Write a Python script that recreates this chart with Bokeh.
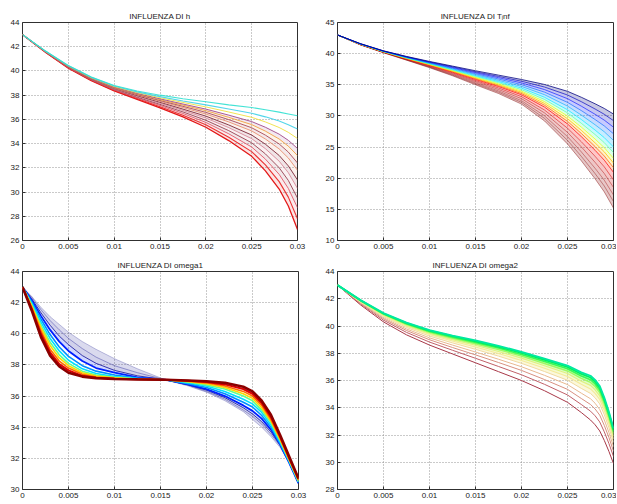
from bokeh.plotting import figure
from bokeh.layouts import column, row
from bokeh.models import Range1d, FixedTicker
from bokeh.embed import file_html
from bokeh.resources import INLINE

# ---------------- data ----------------
XTICKS = [0, 0.005, 0.01, 0.015, 0.02, 0.025, 0.03]
XTICK_LABELS = ["0", "0.005", "0.01", "0.015", "0.02", "0.025", "0.03"]

TITLE_H = "INFLUENZA DI h"
TITLE_T = "INFLUENZA DI T\u1d62nf"
TITLE_W1 = "INFLUENZA DI omega1"
TITLE_W2 = "INFLUENZA DI omega2"

YTICKS_H = [26, 28, 30, 32, 34, 36, 38, 40, 42, 44]
YTICKS_T = [10, 15, 20, 25, 30, 35, 40, 45]
YTICKS_W1 = [30, 32, 34, 36, 38, 40, 42, 44]
YTICKS_W2 = [28, 30, 32, 34, 36, 38, 40, 42, 44]

# Panel 1: influenza di h
X_H = [0, .0025, .005, .0075, .01, .0125, .015, .0175, .02, .0225, .025, .0265, .028, .029, .03]
Y_H = [
    [43, 41.65, 40.45, 39.5, 38.8, 38.35, 38.0, 37.7, 37.45, 37.2, 36.98, 36.8, 36.6, 36.45, 36.3],
    [43, 41.64, 40.42, 39.47, 38.75, 38.27, 37.88, 37.52, 37.2, 36.86, 36.51, 36.21, 35.86, 35.56, 35.2],
    [43, 41.63, 40.41, 39.44, 38.71, 38.21, 37.79, 37.4, 37.03, 36.61, 36.17, 35.79, 35.33, 34.93, 34.42],
    [43, 41.62, 40.39, 39.41, 38.67, 38.15, 37.7, 37.27, 36.85, 36.35, 35.82, 35.35, 34.78, 34.27, 33.6],
    [43, 41.61, 40.37, 39.4, 38.64, 38.11, 37.63, 37.18, 36.72, 36.17, 35.57, 35.03, 34.38, 33.79, 33.01],
    [43, 41.6, 40.36, 39.38, 38.61, 38.06, 37.56, 37.08, 36.58, 35.98, 35.31, 34.7, 33.97, 33.3, 32.4],
    [43, 41.6, 40.35, 39.36, 38.58, 38.02, 37.5, 36.98, 36.44, 35.79, 35.05, 34.38, 33.56, 32.81, 31.8],
    [43, 41.59, 40.33, 39.33, 38.55, 37.96, 37.41, 36.85, 36.27, 35.54, 34.71, 33.95, 33.02, 32.16, 31.0],
    [43, 41.58, 40.31, 39.31, 38.51, 37.9, 37.33, 36.74, 36.11, 35.32, 34.41, 33.58, 32.55, 31.6, 30.3],
    [43, 41.57, 40.29, 39.28, 38.48, 37.84, 37.24, 36.62, 35.93, 35.07, 34.07, 33.15, 32.01, 30.96, 29.5],
    [43, 41.56, 40.27, 39.26, 38.44, 37.78, 37.15, 36.49, 35.75, 34.81, 33.72, 32.72, 31.46, 30.3, 28.7],
    [43, 41.55, 40.25, 39.23, 38.39, 37.72, 37.05, 36.34, 35.55, 34.53, 33.34, 32.24, 30.86, 29.58, 27.8],
    [43, 41.54, 40.23, 39.2, 38.35, 37.65, 36.95, 36.2, 35.35, 34.25, 32.95, 31.75, 30.25, 28.85, 26.9],
]
C_H = ["#30e0d0", "#40d0e8", "#f0e040", "#a04888", "#f0a040", "#a84858", "#e89070",
       "#802838", "#d88898", "#984050", "#e05868", "#e82020", "#e00000"]
W_H = [1.1, 1.1, 1, 1, 1, 1, 1, 1, 1, 1, 1, 1.1, 1.3]

# Panel 2: influenza di T_inf
X_T = [0, .0025, .005, .0075, .01, .0125, .015, .0175, .02, .0225, .025, .0265, .028, .029, .03]
Y_T = [
    [43, 41.6, 40.45, 39.55, 38.75, 38.0, 37.25, 36.55, 35.85, 35.05, 33.95, 33.0, 31.95, 31.2, 30.3],
    [43, 41.59, 40.43, 39.51, 38.68, 37.89, 37.09, 36.34, 35.57, 34.64, 33.36, 32.29, 31.11, 30.26, 29.24],
    [43, 41.57, 40.41, 39.47, 38.61, 37.78, 36.94, 36.14, 35.3, 34.23, 32.77, 31.57, 30.26, 29.32, 28.19],
    [43, 41.56, 40.39, 39.42, 38.54, 37.67, 36.78, 35.93, 35.02, 33.82, 32.18, 30.86, 29.42, 28.39, 27.13],
    [43, 41.54, 40.37, 39.38, 38.47, 37.57, 36.62, 35.72, 34.74, 33.41, 31.58, 30.14, 28.58, 27.45, 26.07],
    [43, 41.53, 40.35, 39.34, 38.4, 37.46, 36.46, 35.52, 34.47, 33.0, 30.99, 29.43, 27.73, 26.51, 25.01],
    [43, 41.52, 40.33, 39.3, 38.34, 37.36, 36.33, 35.34, 34.23, 32.65, 30.49, 28.82, 27.01, 25.71, 24.11],
    [43, 41.51, 40.31, 39.27, 38.28, 37.27, 36.19, 35.16, 33.99, 32.3, 29.98, 28.21, 26.29, 24.9, 23.2],
    [43, 41.5, 40.29, 39.24, 38.23, 37.19, 36.08, 35.02, 33.8, 32.01, 29.56, 27.7, 25.68, 24.23, 22.45],
    [43, 41.49, 40.28, 39.21, 38.18, 37.12, 35.97, 34.87, 33.6, 31.72, 29.13, 27.19, 25.08, 23.56, 21.69],
    [43, 41.48, 40.26, 39.18, 38.13, 37.04, 35.85, 34.72, 33.4, 31.42, 28.71, 26.68, 24.48, 22.89, 20.94],
    [43, 41.46, 40.24, 39.13, 38.05, 36.92, 35.68, 34.49, 33.09, 30.95, 28.03, 25.86, 23.51, 21.82, 19.73],
    [43, 41.44, 40.22, 39.08, 37.97, 36.79, 35.5, 34.25, 32.77, 30.49, 27.36, 25.04, 22.55, 20.75, 18.52],
    [43, 41.43, 40.19, 39.03, 37.89, 36.67, 35.32, 34.01, 32.45, 30.02, 26.68, 24.23, 21.59, 19.68, 17.31],
    [43, 41.41, 40.17, 38.99, 37.82, 36.56, 35.16, 33.81, 32.18, 29.61, 26.09, 23.51, 20.74, 18.74, 16.26],
    [43, 41.4, 40.15, 38.95, 37.75, 36.45, 35.0, 33.6, 31.9, 29.2, 25.5, 22.8, 19.9, 17.8, 15.2],
]
C_T = ["#00007f", "#0000c0", "#0010ff", "#0060ff", "#00a8ff", "#00e8ff", "#60ffa0", "#e0ff20",
       "#ffc000", "#ff6000", "#ff0000", "#d00000", "#b00000", "#980000", "#880000", "#800000"]
A_T = [0.85, 0.75, 0.7, 0.7, 0.7, 0.75, 0.8, 0.85, 0.85, 0.8, 0.8, 0.6, 0.5, 0.45, 0.45, 0.5]

# Panel 3: influenza di omega1
X_W1 = [0, .001, .002, .003, .004, .005, .0065, .008, .01, .0125, .0155,
        .018, .02, .022, .024, .025, .026, .027, .028, .029, .03]
Y_W1 = [
    [43, 41.5, 39.8, 38.6, 37.9, 37.5, 37.25, 37.15, 37.1, 37.07, 37.05, 37.0, 36.95, 36.85, 36.6, 36.3, 35.7, 34.8, 33.5, 32.1, 30.7],
    [43, 41.6, 40.0, 38.8, 38.05, 37.65, 37.3, 37.18, 37.12, 37.08, 37.05, 36.98, 36.9, 36.75, 36.45, 36.15, 35.55, 34.65, 33.4, 32.0, 30.7],
    [43, 41.7, 40.2, 39.0, 38.25, 37.8, 37.4, 37.22, 37.14, 37.08, 37.05, 36.95, 36.85, 36.65, 36.3, 36.0, 35.4, 34.5, 33.3, 31.95, 30.6],
    [43, 41.8, 40.4, 39.25, 38.45, 37.95, 37.5, 37.28, 37.17, 37.09, 37.05, 36.93, 36.8, 36.55, 36.15, 35.85, 35.25, 34.4, 33.2, 31.9, 30.6],
    [43, 41.85, 40.55, 39.45, 38.65, 38.1, 37.6, 37.35, 37.2, 37.1, 37.05, 36.9, 36.72, 36.45, 36.0, 35.7, 35.1, 34.3, 33.15, 31.85, 30.5],
    [43, 41.95, 40.75, 39.7, 38.9, 38.3, 37.75, 37.45, 37.25, 37.12, 37.05, 36.85, 36.65, 36.3, 35.8, 35.5, 34.95, 34.15, 33.05, 31.8, 30.5],
    [43, 42.05, 40.95, 39.95, 39.15, 38.55, 37.95, 37.6, 37.35, 37.15, 37.05, 36.8, 36.55, 36.15, 35.6, 35.3, 34.75, 34.0, 32.95, 31.75, 30.45],
    [43, 42.15, 41.15, 40.25, 39.5, 38.9, 38.25, 37.8, 37.5, 37.2, 37.05, 36.75, 36.45, 36.0, 35.4, 35.05, 34.55, 33.85, 32.9, 31.7, 30.4],
    [43, 42.25, 41.35, 40.55, 39.85, 39.3, 38.6, 38.1, 37.65, 37.3, 37.05, 36.72, 36.38, 35.9, 35.25, 34.85, 34.35, 33.7, 32.85, 31.7, 30.4],
    [43, 42.35, 41.55, 40.85, 40.25, 39.7, 39.05, 38.5, 37.95, 37.5, 37.05, 36.7, 36.3, 35.8, 35.1, 34.7, 34.2, 33.55, 32.8, 31.7, 30.4],
    [43, 42.4, 41.7, 41.1, 40.6, 40.1, 39.5, 39.0, 38.4, 37.75, 37.05, 36.65, 36.25, 35.7, 35.0, 34.5, 34.0, 33.4, 32.7, 31.7, 30.4],
]
C_W1 = ["#8b0000", "#e00000", "#ff7000", "#ffd800", "#60ff90", "#00e0ff",
        "#0090ff", "#0020ff", "#000090", "#3030a0", "#5050a8"]
W_W1 = [2.6, 2.0, 1.6, 1.6, 1.6, 1.6, 1.6, 1.8, 1.0, 0.9, 0.9]
A_W1 = [1, 1, 1, 1, 1, 1, 1, 1, 0.75, 0.5, 0.4]

# Panel 4: influenza di omega2
X_W2 = [0, .0025, .005, .0075, .01, .0125, .015, .0175, .02, .0225, .025,
        .0265, .0275, .028, .0285, .029, .0295, .03]
Y_W2 = [
    [43, 41.9, 40.95, 40.25, 39.7, 39.3, 38.95, 38.55, 38.1, 37.6, 37.1, 36.6, 36.35, 36.05, 35.6, 34.75, 33.7, 32.5],
    [43, 41.89, 40.92, 40.21, 39.66, 39.25, 38.88, 38.47, 38.02, 37.51, 36.99, 36.48, 36.22, 35.92, 35.47, 34.62, 33.58, 32.4],
    [43, 41.87, 40.89, 40.17, 39.6, 39.18, 38.8, 38.38, 37.91, 37.39, 36.86, 36.33, 36.06, 35.75, 35.3, 34.47, 33.44, 32.27],
    [43, 41.85, 40.85, 40.12, 39.54, 39.1, 38.7, 38.27, 37.79, 37.25, 36.7, 36.16, 35.86, 35.56, 35.11, 34.28, 33.27, 32.11],
    [43, 41.82, 40.81, 40.05, 39.46, 39.0, 38.59, 38.13, 37.64, 37.08, 36.51, 35.95, 35.64, 35.32, 34.87, 34.06, 33.06, 31.93],
    [43, 41.8, 40.76, 39.98, 39.37, 38.9, 38.46, 37.98, 37.47, 36.9, 36.29, 35.72, 35.38, 35.06, 34.61, 33.81, 32.83, 31.72],
    [43, 41.76, 40.69, 39.89, 39.26, 38.76, 38.29, 37.79, 37.26, 36.66, 36.02, 35.42, 35.05, 34.73, 34.28, 33.49, 32.54, 31.46],
    [43, 41.72, 40.61, 39.78, 39.13, 38.6, 38.09, 37.56, 37.01, 36.38, 35.7, 35.07, 34.66, 34.33, 33.88, 33.11, 32.19, 31.15],
    [43, 41.67, 40.53, 39.67, 38.99, 38.42, 37.88, 37.32, 36.74, 36.07, 35.35, 34.68, 34.24, 33.91, 33.46, 32.7, 31.82, 30.81],
    [43, 41.62, 40.43, 39.53, 38.82, 38.22, 37.63, 37.03, 36.42, 35.72, 34.94, 34.24, 33.75, 33.41, 32.96, 32.23, 31.38, 30.42],
    [43, 41.55, 40.3, 39.35, 38.6, 37.95, 37.3, 36.65, 36.0, 35.25, 34.4, 33.65, 33.1, 32.75, 32.3, 31.6, 30.8, 29.9],
]
C_W2 = ["#00e8a0", "#00f060", "#40f850", "#a0f860", "#e0f080", "#f4ea98",
        "#f0d8a0", "#e8b890", "#d89080", "#c06068", "#a83848"]
W_W2 = [1.8, 1.8, 1.6, 1.4, 1.2, 1.1, 1, 1, 1, 1, 1]

FONT = "Liberation Sans"


def style_axis(ax):
    ax.axis_line_color = None
    ax.major_tick_in = 3
    ax.major_tick_out = 0
    ax.major_tick_line_color = "#303030"
    ax.minor_tick_line_color = None
    ax.major_label_text_font = FONT
    ax.major_label_text_color = "#222222"
    ax.major_label_text_font_size = "8px"
    ax.major_label_standoff = 3


def make_fig(title, width, height, yrange, yticks, bl, br, bt, bb):
    p = figure(width=width, height=height, output_backend="svg", toolbar_location=None,
               x_range=Range1d(XTICKS[0], XTICKS[-1]), y_range=Range1d(*yrange),
               min_border_left=bl, min_border_right=br, min_border_top=bt, min_border_bottom=bb,
               background_fill_color="white", border_fill_color="white")
    p.title.text = title
    p.title.align = "center"
    p.title.text_font = FONT
    p.title.text_font_size = "8px"
    p.title.text_font_style = "normal"
    p.title.text_color = "#222222"
    p.title.standoff = 3
    p.outline_line_color = "#303030"
    p.outline_line_width = 1
    p.outline_line_alpha = 1
    p.xaxis.ticker = FixedTicker(ticks=XTICKS)
    p.xaxis.major_label_overrides = dict(zip(XTICKS, XTICK_LABELS))
    p.yaxis.ticker = FixedTicker(ticks=yticks)
    p.yaxis.major_label_overrides = {t: str(t) for t in yticks}
    style_axis(p.xaxis[0])
    style_axis(p.yaxis[0])
    for g in (p.xgrid, p.ygrid):
        g.grid_line_color = "#8a8a8a"
        g.grid_line_dash = "1 2"
        g.grid_line_width = 1
        g.grid_line_alpha = 0.9
    return p


def bands(p, xs, curves, colors, alpha, first, last):
    for k in range(first, last):
        p.varea(x=xs, y1=curves[k], y2=curves[k + 1], fill_color=colors[k], fill_alpha=alpha)


# Panel 1
p1 = make_fig(TITLE_H, 308, 254, (26, 44), YTICKS_H, 22, 11, 22, 14)
bands(p1, X_H, Y_H, C_H, 0.12, 3, len(Y_H) - 1)
for ys, c, w in zip(reversed(Y_H), reversed(C_H), reversed(W_H)):
    p1.line(X_H, ys, line_color=c, line_width=w, line_alpha=0.9)

# Panel 2
p2 = make_fig(TITLE_T, 308, 254, (10, 45), YTICKS_T, 29, 3, 20, 14)
bands(p2, X_T, Y_T, C_T, 0.22, 0, len(Y_T) - 1)
for ys, c, a in zip(reversed(Y_T), reversed(C_T), reversed(A_T)):
    p2.line(X_T, ys, line_color=c, line_width=0.9, line_alpha=a)

# Panel 3
p3 = make_fig(TITLE_W1, 308, 249, (30, 44), YTICKS_W1, 22, 10, 17, 14)
bands(p3, X_W1, Y_W1, C_W1, 0.18, 7, len(Y_W1) - 1)
for ys, c, w, a in zip(reversed(Y_W1), reversed(C_W1), reversed(W_W1), reversed(A_W1)):
    p3.line(X_W1, ys, line_color=c, line_width=w, line_alpha=a)

# Panel 4
p4 = make_fig(TITLE_W2, 308, 249, (28, 44), YTICKS_W2, 29, 3, 15, 14)
bands(p4, X_W2, Y_W2, C_W2, 0.35, 0, 6)
for ys, c, w in zip(reversed(Y_W2), reversed(C_W2), reversed(W_W2)):
    p4.line(X_W2, ys, line_color=c, line_width=w)

layout = column(row(p1, p2), row(p3, p4))

with open("out.html", "w") as f:
    f.write(file_html(layout, INLINE))
